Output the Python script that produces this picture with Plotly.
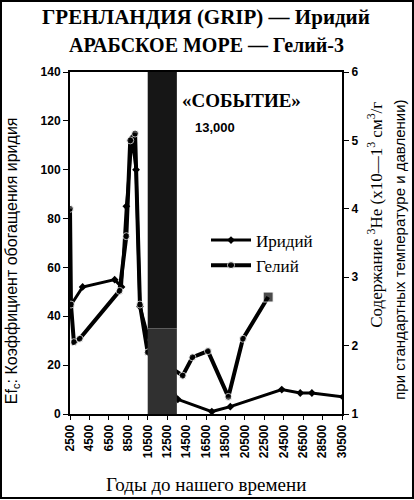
import plotly.graph_objects as go

# -- data --
years_ticks = [2500, 4500, 6500, 8500, 10500, 12500, 14500, 16500,
               18500, 20500, 22500, 24500, 26500, 28500, 30500]
years_labels = [str(v) for v in years_ticks]

# iridium (GRIP), left axis, enrichment factor
ir_years = [2500, 3800, 7100, 7800, 8300, 8900, 9300, 9700, 11000, 13600,
            17100, 19000, 24300, 26200, 27400, 30600]
ir_vals = [44, 52, 55, 52, 85, 113, 100, 44, 25, 6,
           1, 3, 10, 8.6, 8.6, 7]

# helium-3 (Arabian sea), right axis
he_years = [2500, 2600, 2900, 3500, 7600, 8300, 8700, 9200, 9700, 10500,
            14100, 15100, 16700, 18800, 20300, 22900]
he_vals = [4.0, 2.6, 2.05, 2.1, 2.8, 3.6, 5.0, 5.1, 2.6, 1.9,
           1.56, 1.83, 1.92, 1.25, 2.1, 2.71]

event_start, event_end = 10500, 13500

serif = "Liberation Serif"
sans = "Liberation Sans"

fig = go.Figure()

fig.add_trace(go.Scatter(
    x=ir_years, y=ir_vals, name="Иридий", mode="lines+markers",
    line=dict(color="black", width=3),
    marker=dict(symbol="diamond", size=6, color="black"),
))

he_symbols = ["circle"] * (len(he_years) - 1) + ["square"]
he_sizes = [7] * (len(he_years) - 1) + [10]
fig.add_trace(go.Scatter(
    x=he_years, y=he_vals, name="Гелий", mode="lines+markers", yaxis="y2",
    line=dict(color="black", width=4),
    marker=dict(symbol=he_symbols, size=he_sizes, color="black"),
))

# the "event" band, drawn over the lines
fig.add_shape(type="rect", xref="x", yref="y", x0=event_start, x1=event_end,
              y0=35, y1=140, fillcolor="#161616", line_width=0, layer="above")
fig.add_shape(type="rect", xref="x", yref="y", x0=event_start, x1=event_end,
              y0=0, y1=35, fillcolor="#303030", line_width=0, layer="above")

# frame around the whole picture
fig.add_shape(type="rect", xref="paper", yref="paper",
              x0=-0.2537, x1=1.261, y0=-0.2456, y1=1.2076,
              line=dict(color="black", width=2), layer="below")

ann = [
    dict(text="ГРЕНЛАНДИЯ (GRIP) — Иридий", x=0.5, y=1.161,
         font=dict(family=serif, size=21, weight="bold")),
    dict(text="АРАБСКОЕ МОРЕ — Гелий-3", x=0.5, y=1.079,
         font=dict(family=serif, size=20, weight="bold")),
    dict(text="Годы до нашего времени", x=0.5, y=-0.2076,
         font=dict(family=serif, size=19)),
    dict(text="Ef<sub>c</sub>: Коэффициент обогащения иридия", x=-0.213, y=0.447,
         textangle=-90, font=dict(family=sans, size=16)),
    dict(text="Содержание <sup>3</sup>He (x10—1<sup>3</sup> см<sup>3</sup>/г",
         x=1.121, y=0.582, textangle=-90, font=dict(family=serif, size=17)),
    dict(text="при стандартных температуре и давлении)", x=1.213, y=0.48,
         textangle=-90, font=dict(family=sans, size=15)),
    dict(text="«СОБЫТИЕ»", x=(241 - 70) / 272, y=(414 - 101) / 342,
         font=dict(family=serif, size=19, weight="bold")),
    dict(text="13,000", x=(215 - 70) / 272, y=(414 - 127) / 342,
         font=dict(family=sans, size=13, weight="bold")),
]
for a in ann:
    a.update(xref="paper", yref="paper", showarrow=False,
             xanchor="center", yanchor="middle")
    a["font"]["color"] = "black"
fig.update_layout(annotations=ann)

tickfont = dict(family=sans, size=12, color="black", weight="bold")

fig.update_layout(
    width=414, height=500,
    margin=dict(l=70, r=72, t=72, b=86, autoexpand=False),
    paper_bgcolor="white", plot_bgcolor="white",
    showlegend=True,
    legend=dict(x=0.5, y=0.56, xanchor="left", yanchor="top",
                bgcolor="rgba(0,0,0,0)", itemwidth=40, tracegroupgap=0,
                font=dict(family=serif, size=17, color="black")),
    xaxis=dict(range=[2500, 30500], tickvals=years_ticks, ticktext=years_labels,
               tickangle=-90, automargin=False,
               tickfont=tickfont, showgrid=False, zeroline=False,
               showline=True, linecolor="black", linewidth=2, mirror=True,
               ticks="outside", ticklen=4, tickcolor="black"),
    yaxis=dict(range=[0, 140], dtick=20, tickfont=tickfont, showgrid=False,
               automargin=False,
               zeroline=False, showline=True, linecolor="black", linewidth=2,
               ticks="outside", ticklen=5, tickcolor="black"),
    yaxis2=dict(range=[1, 6], dtick=1, overlaying="y", side="right",
                automargin=False,
                tickfont=tickfont, showgrid=False, zeroline=False,
                showline=True, linecolor="black", linewidth=2,
                ticks="outside", ticklen=5, tickcolor="black"),
)

# page body has a default margin; drop it so the figure sits at the corner
fig.write_html("out.html", config={"displayModeBar": False},
               post_script="document.body.style.margin='0';")
